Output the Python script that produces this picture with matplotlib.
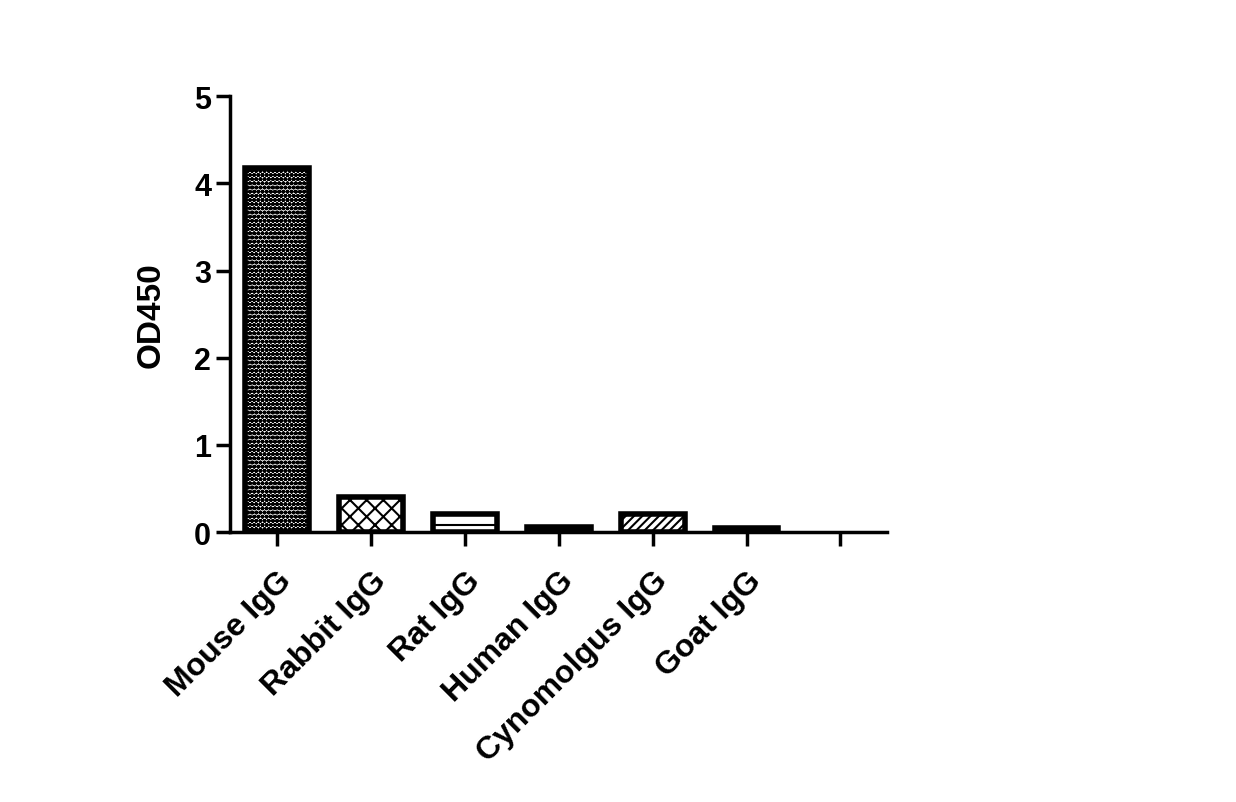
import numpy as np
import matplotlib.pyplot as plt

plt.rcParams['font.family'] = ['Liberation Sans', 'DejaVu Sans']
plt.rcParams['hatch.linewidth'] = 1.5

labels = ['Mouse IgG', 'Rabbit IgG', 'Rat IgG', 'Human IgG', 'Cynomolgus IgG', 'Goat IgG']
values = [4.18, 0.40, 0.21, 0.06, 0.21, 0.05]
hatches = ['oooo', 'XX', '-', '--', '////', '..']

fig = plt.figure(figsize=(12.36, 8.03), dpi=100)
ax = fig.add_axes([0.186, 0.336, 0.532, 0.543])

x = np.arange(len(labels))
for i, (v, h) in enumerate(zip(values, hatches)):
    ax.bar(x[i], v, 0.68, color='white', edgecolor='black', linewidth=4, hatch=h)

ax.set_xlim(-0.5, 6.5)
ax.set_ylim(0, 5)
ax.set_xticks(np.arange(7))
ax.set_xticklabels(labels + [''], rotation=45, ha='right', rotation_mode='anchor',
                   fontsize=23, fontweight='bold')
ax.set_yticks(range(6))
ax.tick_params(axis='y', labelsize=22, width=2.5, length=10)
ax.tick_params(axis='x', width=2.5, length=10, pad=14)
for t in ax.get_yticklabels():
    t.set_fontweight('bold')
ax.set_ylabel('OD450', fontsize=24, fontweight='bold', labelpad=20)
for s in ['top', 'right']:
    ax.spines[s].set_visible(False)
for s in ['left', 'bottom']:
    ax.spines[s].set_linewidth(2.5)

fig.savefig('out.png', dpi=100)
